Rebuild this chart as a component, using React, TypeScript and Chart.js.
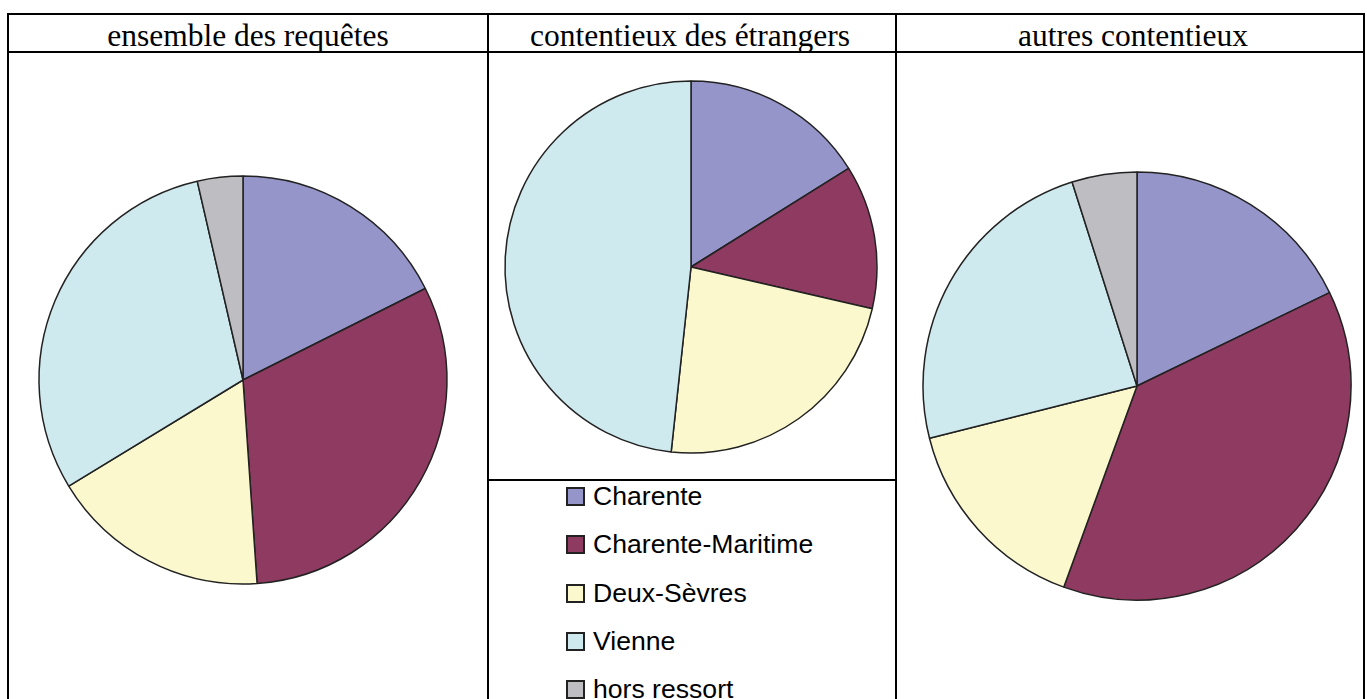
import React, { useEffect, useRef } from "react";
import { Chart, registerables } from "chart.js";

Chart.register(...registerables);

const categories = ["Charente", "Charente-Maritime", "Deux-Sèvres", "Vienne", "hors ressort"];
const colors = ["#9595c9", "#8f3a61", "#faf8cc", "#cfeaee", "#bebec2"];
const titles = ["ensemble des requêtes", "contentieux des étrangers", "autres contentieux"];

// percentage shares
const ensembleValues = [17.6, 31.3, 17.4, 30.1, 3.6];
const etrangersValues = [16.1, 12.5, 23.1, 48.3, 0];
const autresValues = [17.8, 37.7, 15.5, 24.0, 4.9];

type PieProps = { values: number[]; cx: number; cy: number; r: number };

function Pie({ values, cx, cy, r }: PieProps) {
  const ref = useRef<HTMLCanvasElement | null>(null);
  const pad = 4;
  const size = 2 * r + 2 * pad;
  useEffect(() => {
    if (!ref.current) return;
    const chart = new Chart(ref.current, {
      type: "pie",
      data: {
        labels: categories,
        datasets: [
          {
            data: values,
            backgroundColor: colors,
            borderColor: "#222222",
            borderWidth: 1.5,
            radius: r,
          } as any,
        ],
      },
      options: {
        animation: false,
        responsive: false,
        devicePixelRatio: 1,
        layout: { padding: 0 },
        plugins: {
          legend: { display: false },
          tooltip: { enabled: false },
        },
        events: [],
      },
    });
    return () => chart.destroy();
  }, [values, r]);
  return (
    <canvas
      ref={ref}
      width={size}
      height={size}
      style={{ position: "absolute", left: cx - r - pad, top: cy - r - pad, width: size, height: size }}
    />
  );
}

const line = (left: number, top: number, width: number, height: number): React.CSSProperties => ({
  position: "absolute",
  left,
  top,
  width,
  height,
  background: "#000",
});

export default function App() {
  const headerStyle = (center: number): React.CSSProperties => ({
    position: "absolute",
    left: center - 220,
    width: 440,
    top: 18,
    textAlign: "center",
    fontFamily: "'Liberation Serif', 'Times New Roman', serif",
    fontSize: "31.5px",
    lineHeight: "35px",
    color: "#000",
    whiteSpace: "nowrap",
  });
  const step = 48.3;
  return (
    <div style={{ position: "absolute", left: 0, top: 0, width: 1367, height: 699, overflow: "hidden", background: "#fff" }}>
      {/* table lines */}
      <div style={line(7, 13, 1358, 2)} />
      <div style={line(7, 51, 1358, 2)} />
      <div style={line(7, 13, 2, 700)} />
      <div style={line(487, 13, 2, 700)} />
      <div style={line(895, 13, 2, 700)} />
      <div style={line(1363, 13, 2, 700)} />
      <div style={line(487, 479, 410, 2)} />

      <div style={headerStyle(248)}>{titles[0]}</div>
      <div style={headerStyle(690)}>{titles[1]}</div>
      <div style={headerStyle(1133)}>{titles[2]}</div>

      <Pie values={ensembleValues} cx={243} cy={380} r={204} />
      <Pie values={etrangersValues} cx={691} cy={267} r={186} />
      <Pie values={autresValues} cx={1137} cy={386} r={214} />

      {categories.map((c, i) => (
        <React.Fragment key={c}>
          <div
            style={{
              position: "absolute",
              left: 566,
              top: 487 + i * step,
              width: 15,
              height: 15,
              background: colors[i],
              border: "2px solid #222",
            }}
          />
          <div
            style={{
              position: "absolute",
              left: 593,
              top: 482 + i * step,
              fontFamily: "'Liberation Sans', Arial, sans-serif",
              fontSize: "26.6px",
              lineHeight: "29px",
              color: "#000",
              whiteSpace: "nowrap",
            }}
          >
            {c}
          </div>
        </React.Fragment>
      ))}
    </div>
  );
}
